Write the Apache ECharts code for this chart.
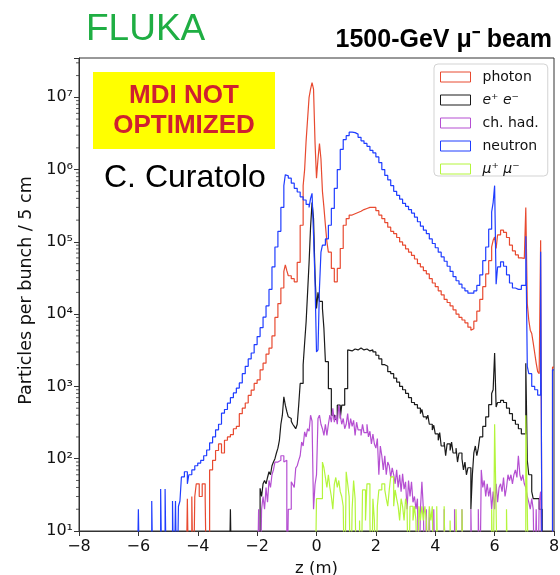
<!DOCTYPE html>
<html><head><meta charset="utf-8">
<script src="https://cdn.jsdelivr.net/npm/echarts@6/dist/echarts.min.js"></script>
<style>html,body{margin:0;padding:0;background:#fff}#c{width:560px;height:575px}</style>
</head><body><div id="c"></div>
<script>
// ---- data: [bin left edge z (m), particles per bunch / 5 cm]; 0 = empty bin ----
const photon = [[-4.4,0],[-4.35,28],[-4.3,0],[-4.2,30],[-4.15,0],[-4.1,30],[-4.05,45],[-3.95,30],[-3.85,45],[-3.75,28],[-3.7,0],[-3.6,70],[-3.5,95],[-3.4,130],[-3.3,160],[-3.2,120],[-3.1,180],[-3.0,200],[-2.9,215],[-2.8,260],[-2.7,280],[-2.6,420],[-2.5,500],[-2.4,590],[-2.3,750],[-2.2,890],[-2.1,1100],[-2.0,1230],[-1.9,1700],[-1.8,2100],[-1.7,2800],[-1.6,3400],[-1.5,5000],[-1.4,9000],[-1.3,14000],[-1.2,23000],[-1.1,39000],[-1.05,48000],[-1.0,40000],[-0.95,34000],[-0.85,31000],[-0.75,28000],[-0.65,52000],[-0.55,170000],[-0.45,600000],[-0.4,1.0e6],[-0.35,2.5e6],[-0.3,5.0e6],[-0.25,1.0e7],[-0.2,1.3e7],[-0.15,1.6e7],[-0.1,1.3e7],[-0.05,2.4e6],[0.0,7.6e5],[0.05,1.4e6],[0.1,2.3e6],[0.15,1.4e6],[0.2,5.0e5],[0.25,3.0e5],[0.3,1.7e5],[0.35,1.0e5],[0.4,72000],[0.5,43000],[0.6,28000],[0.7,43000],[0.8,81000],[0.9,170000],[1.0,210000],[1.1,235000],[1.2,245000],[1.3,255000],[1.4,265000],[1.5,280000],[1.6,290000],[1.7,300000],[1.8,300000],[1.9,300000],[2.0,270000],[2.1,235000],[2.2,210000],[2.3,185000],[2.4,160000],[2.5,140000],[2.6,130000],[2.7,115000],[2.8,100000],[2.9,90000],[3.0,80000],[3.1,72000],[3.2,65000],[3.3,58000],[3.4,50000],[3.5,45000],[3.6,40000],[3.7,36000],[3.8,31000],[3.9,27000],[4.0,24000],[4.1,21000],[4.2,18500],[4.3,16000],[4.4,14500],[4.5,13000],[4.6,11500],[4.7,10000],[4.8,9000],[4.9,8300],[5.0,7600],[5.1,6600],[5.2,6000],[5.25,6300],[5.3,8000],[5.4,11000],[5.5,16000],[5.6,24000],[5.7,36000],[5.8,55000],[5.9,85000],[5.95,105000],[6.0,117000],[6.05,81000],[6.1,125000],[6.2,145000],[6.3,135000],[6.4,115000],[6.5,90000],[6.6,75000],[6.7,66000],[6.8,60000],[6.9,59000],[7.0,60000],[7.05,300000],[7.1,14000],[7.15,8300],[7.2,6000],[7.25,5400],[7.3,4000],[7.35,2900],[7.4,2100],[7.45,1600],[7.5,1500],[7.55,105000],[7.6,0],[7.95,1850],[8.0,1850]];

const electrons = [[-2.95,0],[-2.9,20],[-2.85,0],[-1.9,39],[-1.85,30],[-1.8,45],[-1.75,50],[-1.7,45],[-1.65,55],[-1.6,66],[-1.55,60],[-1.5,80],[-1.45,90],[-1.4,100],[-1.35,120],[-1.3,140],[-1.25,180],[-1.2,300],[-1.15,400],[-1.1,720],[-1.05,550],[-1.0,450],[-0.95,380],[-0.9,360],[-0.85,330],[-0.8,300],[-0.75,280],[-0.7,260],[-0.65,300],[-0.6,550],[-0.55,1100],[-0.45,2000],[-0.4,4000],[-0.35,7800],[-0.3,20000],[-0.25,52000],[-0.2,160000],[-0.15,350000],[-0.1,210000],[-0.05,35000],[0.0,12000],[0.05,20000],[0.1,15000],[0.2,12000],[0.25,6300],[0.3,2200],[0.4,930],[0.5,400],[0.6,350],[0.7,550],[0.8,360],[0.85,550],[0.95,930],[1.05,3200],[1.1,3100],[1.2,3300],[1.3,3200],[1.4,3400],[1.5,3200],[1.6,3300],[1.7,3100],[1.8,3200],[1.9,3000],[2.0,2700],[2.1,2400],[2.2,2000],[2.3,1900],[2.4,1600],[2.5,1500],[2.6,1300],[2.7,1150],[2.8,1000],[2.9,900],[3.0,800],[3.1,700],[3.2,600],[3.3,560],[3.4,500],[3.5,420],[3.55,480],[3.6,380],[3.7,350],[3.75,400],[3.8,300],[3.9,250],[3.95,290],[4.0,220],[4.1,180],[4.15,230],[4.2,150],[4.3,170],[4.35,110],[4.4,160],[4.5,130],[4.55,170],[4.6,120],[4.7,140],[4.75,90],[4.8,120],[4.9,100],[4.95,70],[5.0,90],[5.05,60],[5.1,75],[5.2,20],[5.25,60],[5.3,120],[5.35,150],[5.4,110],[5.45,140],[5.5,200],[5.6,280],[5.7,380],[5.8,560],[5.9,800],[5.95,900],[6.0,2900],[6.05,520],[6.1,600],[6.2,640],[6.3,600],[6.4,500],[6.5,420],[6.6,340],[6.7,300],[6.8,260],[6.9,220],[7.05,2100],[7.1,95],[7.15,60],[7.25,35],[7.3,28],[7.4,28],[7.5,20],[7.6,0],[8.0,0]];

const hadrons = [[-2.0,0],[-1.95,20],[-1.9,0],[-1.85,20],[-1.8,30],[-1.75,20],[-1.7,40],[-1.65,25],[-1.6,50],[-1.55,40],[-1.5,60],[-1.45,70],[-1.4,90],[-1.3,95],[-1.2,110],[-1.1,90],[-1.05,95],[-1.0,0],[-0.95,20],[-0.9,20],[-0.85,48],[-0.8,44],[-0.75,40],[-0.7,74],[-0.65,80],[-0.6,95],[-0.55,110],[-0.5,170],[-0.45,150],[-0.4,235],[-0.35,200],[-0.3,260],[-0.25,240],[-0.2,400],[-0.15,330],[-0.1,20],[-0.05,44],[0.0,60],[0.05,360],[0.1,400],[0.15,300],[0.2,260],[0.25,210],[0.3,300],[0.35,210],[0.4,300],[0.45,400],[0.5,320],[0.55,500],[0.6,320],[0.65,400],[0.7,300],[0.75,550],[0.8,400],[0.85,300],[0.9,360],[0.95,260],[1.0,300],[1.05,420],[1.1,260],[1.15,360],[1.2,280],[1.25,340],[1.3,210],[1.35,320],[1.4,250],[1.5,210],[1.55,300],[1.6,230],[1.7,300],[1.75,200],[1.8,240],[1.85,160],[1.9,220],[1.95,160],[2.0,140],[2.05,190],[2.1,60],[2.15,150],[2.2,110],[2.25,70],[2.3,110],[2.35,60],[2.4,90],[2.45,80],[2.5,55],[2.55,75],[2.6,60],[2.65,45],[2.7,70],[2.75,40],[2.8,60],[2.85,35],[2.9,62],[2.95,38],[3.0,48],[3.05,20],[3.1,50],[3.15,30],[3.2,48],[3.25,25],[3.3,30],[3.35,20],[3.4,28],[3.45,0],[3.5,20],[3.55,48],[3.6,20],[3.65,0],[3.7,20],[3.75,0],[3.8,20],[3.85,0],[3.95,20],[4.0,0],[4.3,20],[4.35,0],[4.65,20],[4.7,0],[4.9,20],[4.95,0],[5.2,20],[5.25,0],[5.45,20],[5.5,0],[5.55,70],[5.6,40],[5.65,50],[5.7,30],[5.75,45],[5.8,30],[5.85,40],[5.9,20],[5.95,35],[6.0,20],[6.05,45],[6.1,25],[6.15,40],[6.2,45],[6.25,35],[6.3,55],[6.35,30],[6.4,40],[6.45,60],[6.5,50],[6.55,60],[6.6,45],[6.65,60],[6.7,70],[6.75,55],[6.8,110],[6.85,60],[6.9,50],[6.95,60],[7.0,45],[7.05,40],[7.1,30],[7.15,25],[7.2,20],[7.25,28],[7.3,20],[7.35,0],[7.4,20],[7.45,0],[7.5,25],[7.55,35],[7.6,0],[8.0,0]];

const neutrons = [[-6.05,0],[-6.0,20],[-5.95,0],[-5.55,26],[-5.5,0],[-5.25,38],[-5.2,0],[-5.1,38],[-5.05,0],[-4.85,26],[-4.8,0],[-4.75,26],[-4.7,0],[-4.65,22],[-4.6,26],[-4.55,56],[-4.45,66],[-4.35,45],[-4.3,60],[-4.2,70],[-4.1,80],[-4.0,87],[-3.9,95],[-3.8,110],[-3.7,132],[-3.6,166],[-3.5,200],[-3.4,251],[-3.3,300],[-3.2,427],[-3.1,480],[-3.0,589],[-2.9,700],[-2.8,813],[-2.7,950],[-2.6,1120],[-2.5,1500],[-2.4,1900],[-2.3,2400],[-2.2,2900],[-2.1,3800],[-2.0,4900],[-1.9,6500],[-1.8,9100],[-1.7,13000],[-1.6,22000],[-1.5,45000],[-1.4,85000],[-1.3,140000],[-1.2,300000],[-1.1,600000],[-1.05,850000],[-1.0,820000],[-0.95,760000],[-0.85,650000],[-0.75,550000],[-0.65,490000],[-0.55,420000],[-0.45,380000],[-0.35,330000],[-0.25,300000],[-0.2,400000],[-0.15,470000],[-0.1,125000],[-0.05,28000],[0.0,3000],[0.05,3200],[0.1,23000],[0.15,72000],[0.2,90000],[0.3,110000],[0.4,170000],[0.5,290000],[0.6,550000],[0.7,1.0e6],[0.8,1.9e6],[0.9,2.6e6],[1.0,2.95e6],[1.1,3.3e6],[1.2,3.25e6],[1.3,3.1e6],[1.4,2.8e6],[1.5,2.5e6],[1.6,2.3e6],[1.7,2.1e6],[1.8,1.85e6],[1.9,1.7e6],[2.0,1.5e6],[2.1,1.25e6],[2.2,1.0e6],[2.3,830000],[2.4,720000],[2.5,600000],[2.6,500000],[2.7,440000],[2.8,390000],[2.9,340000],[3.0,310000],[3.1,280000],[3.2,250000],[3.3,220000],[3.4,190000],[3.5,165000],[3.6,145000],[3.7,130000],[3.8,110000],[3.9,95000],[4.0,83000],[4.1,72000],[4.2,62000],[4.3,54000],[4.4,46000],[4.5,39000],[4.6,33000],[4.7,29000],[4.8,26000],[4.9,23000],[5.0,21000],[5.1,19500],[5.2,19500],[5.3,21000],[5.4,25000],[5.5,35000],[5.6,55000],[5.7,85000],[5.8,150000],[5.9,260000],[5.95,350000],[6.0,600000],[6.05,26000],[6.1,45000],[6.2,53000],[6.3,46000],[6.4,35000],[6.5,27000],[6.6,23000],[6.7,22000],[6.8,22000],[6.9,25000],[7.05,120000],[7.1,1900],[7.15,1500],[7.25,1000],[7.35,900],[7.45,760],[7.55,73000],[7.6,0],[7.95,1700],[8.0,1700]];

const muons = [[-0.05,0],[0.0,28],[0.2,90],[0.25,75],[0.3,55],[0.35,40],[0.4,60],[0.45,40],[0.5,30],[0.55,20],[0.6,44],[0.65,55],[0.7,40],[0.75,50],[0.8,35],[0.85,30],[0.9,22],[0.95,0],[1.0,66],[1.05,45],[1.1,30],[1.15,0],[1.2,20],[1.25,50],[1.3,28],[1.35,0],[1.45,14],[1.5,0],[1.55,37],[1.65,14],[1.7,45],[1.8,14],[1.85,0],[1.9,28],[1.95,14],[2.0,0],[2.05,22],[2.1,37],[2.2,45],[2.3,37],[2.35,28],[2.4,22],[2.45,37],[2.5,56],[2.6,22],[2.65,37],[2.7,28],[2.75,22],[2.8,14],[2.85,28],[2.9,22],[2.95,14],[3.0,28],[3.05,22],[3.1,0],[3.15,22],[3.25,14],[3.3,22],[3.35,14],[3.4,0],[3.45,22],[3.5,14],[3.55,22],[3.6,14],[3.65,22],[3.7,14],[3.75,0],[3.8,22],[3.85,14],[3.9,22],[3.95,0],[4.05,22],[4.1,0],[4.3,22],[4.35,0],[4.5,14],[4.55,0],[4.7,20],[4.75,0],[4.9,20],[4.95,0],[5.9,20],[5.95,0],[6.0,300],[6.05,20],[6.1,0],[6.4,20],[6.45,0],[7.05,400],[7.1,20],[7.15,0],[8.0,0]];

const seriesNames = ['photon', 'e+ e-', 'ch. had.', 'neutron', 'mu+ mu-'];
const legendLabels = ['photon', 'e\u207A e\u207B', 'ch. had.', 'neutron', '\u03BC\u207A \u03BC\u207B'];
const xTicks = [-8, -6, -4, -2, 0, 2, 4, 6, 8];
const yDecades = [1, 2, 3, 4, 5, 6, 7];
const minorMultipliers = [2, 3, 4, 5, 6, 7, 8, 9];

// ---- styling ----
const colors = ['#e84a30', '#1a1a1a', '#b54fd2', '#1f3dff', '#b4f53c'];
const italic = [false, true, false, false, true];
const allData = [photon, electrons, hadrons, neutrons, muons];
const FLOOR = 1; // empty bins are drawn below the axis floor and clipped
const sup = {'0':'\u2070','1':'\u00B9','2':'\u00B2','3':'\u00B3','4':'\u2074','5':'\u2075','6':'\u2076','7':'\u2077','8':'\u2078','9':'\u2079'};

const minorVals = [];
yDecades.forEach(d => minorMultipliers.forEach(m => { const v = m * Math.pow(10, d); if (v < 3.5e7) minorVals.push([-8, v]); }));

const chart = echarts.init(document.getElementById('c'), null, {renderer: 'canvas'});
const series = allData.map((d, i) => ({
  name: seriesNames[i], type: 'line', step: 'end', symbol: 'none', showSymbol: false,
  clip: true, animation: false, silent: true,
  lineStyle: {color: colors[i], width: 1.2},
  itemStyle: {color: colors[i]},
  data: d.map(p => [p[0], p[1] > 0 ? p[1] : FLOOR])
}));
series.push({
  type: 'custom', silent: true, animation: false, clip: false,
  data: minorVals,
  renderItem: function (params, api) {
    const p = api.coord([api.value(0), api.value(1)]);
    return {type: 'line', shape: {x1: p[0] - 3, y1: p[1], x2: p[0], y2: p[1]}, style: {stroke: '#333', lineWidth: 0.8}};
  }
});

const FONT = 'DejaVu Sans';
chart.setOption({
  animation: false,
  backgroundColor: '#fff',
  textStyle: {fontFamily: FONT},
  grid: {left: 79, right: 6, top: 58, bottom: 44, show: true, borderColor: '#333', borderWidth: 1, containLabel: false, outerBoundsMode: 'none'},
  xAxis: {
    type: 'value', min: -8, max: 8, interval: 2,
    axisLine: {show: true, onZero: false, lineStyle: {color: '#333', width: 1}},
    axisTick: {show: true, length: 5, lineStyle: {color: '#333'}},
    splitLine: {show: false},
    axisLabel: {fontSize: 16, color: '#111', margin: 8, fontFamily: FONT,
      formatter: v => (v < 0 ? '\u2212' + Math.abs(v) : String(v))},
    name: 'z (m)', nameLocation: 'middle', nameGap: 26,
    nameTextStyle: {fontSize: 16.5, color: '#111', fontFamily: FONT}
  },
  yAxis: {
    type: 'log', logBase: 10, min: 10, max: 3.5e7,
    axisLine: {show: true, onZero: false, lineStyle: {color: '#333', width: 1}},
    axisTick: {show: true, length: 5, lineStyle: {color: '#333'}},
    splitLine: {show: false},
    axisLabel: {fontSize: 16, color: '#111', margin: 6, fontFamily: FONT,
      formatter: v => { const e = Math.log10(v); const r = Math.round(e);
        if (Math.abs(e - r) > 1e-6) return '';
        return '10' + String(r).split('').map(c => sup[c]).join(''); }},
    name: 'Particles per bunch / 5 cm', nameLocation: 'middle', nameGap: 28, nameRotate: 90,
    nameTextStyle: {fontSize: 17.5, color: '#111', fontFamily: FONT, padding: [0, 0, 0, 8]}
  },
  legend: {
    orient: 'vertical', left: 434, top: 64,
    padding: [6, 9, 0, 6], itemGap: 9, itemWidth: 30, itemHeight: 10,
    backgroundColor: 'rgba(255,255,255,0.8)', borderColor: '#d3d3d3', borderWidth: 1, borderRadius: 4,
    selectedMode: false,
    textStyle: {fontSize: 14, color: '#111', fontFamily: FONT,
      rich: {n: {fontSize: 14, padding: [0, 0, 0, 7], fontFamily: FONT}, i: {fontSize: 14, fontStyle: 'italic', padding: [0, 0, 0, 7], fontFamily: FONT}}},
    formatter: name => { const k = seriesNames.indexOf(name); return '{' + (italic[k] ? 'i' : 'n') + '|' + legendLabels[k] + '}'; },
    data: seriesNames.map((n, i) => ({name: n, icon: 'rect', itemStyle: {color: '#fff', borderColor: colors[i], borderWidth: 1}}))
  },
  graphic: [
    {type: 'text', left: 86, top: 11, style: {text: 'FLUKA', fontSize: 37, fontFamily: 'Liberation Sans', fill: '#1fae43'}},
    {type: 'text', right: 8, top: 28, style: {text: '1500-GeV \u03BC\u207B beam', fontSize: 25, fontWeight: 'bold', fontFamily: 'Liberation Sans', fill: '#000'}},
    {type: 'rect', shape: {x: 93, y: 72, width: 182, height: 77}, style: {fill: '#ffff00'}, z: 10},
    {type: 'text', z: 11, style: {x: 184, y: 96, text: 'MDI NOT', fontSize: 26, fontWeight: 'bold', fontFamily: 'Liberation Sans', fill: '#cf2030', textAlign: 'center', textVerticalAlign: 'middle'}},
    {type: 'text', z: 11, style: {x: 184, y: 126, text: 'OPTIMIZED', fontSize: 26, fontWeight: 'bold', fontFamily: 'Liberation Sans', fill: '#cf2030', textAlign: 'center', textVerticalAlign: 'middle'}},
    {type: 'text', z: 11, style: {x: 104, y: 178, text: 'C. Curatolo', fontSize: 32, fontFamily: 'Liberation Sans', fill: '#000', textAlign: 'left', textVerticalAlign: 'middle'}}
  ],
  series: series
});
</script></body></html>
